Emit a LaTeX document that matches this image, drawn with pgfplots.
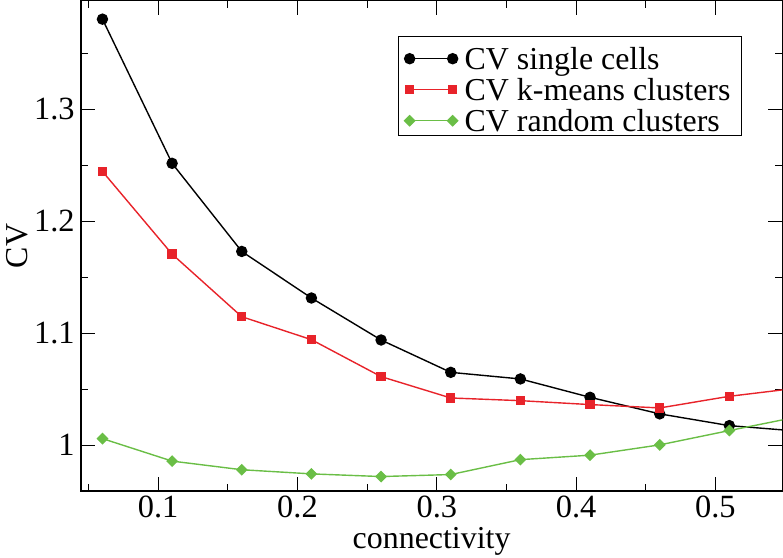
\documentclass[border=0pt]{standalone}
\usepackage{pgfplots}
\pgfplotsset{compat=1.18}
\usepackage{fontspec}
\setmainfont{Liberation Serif}
\definecolor{cvred}{RGB}{232,35,42}
\definecolor{cvgreen}{RGB}{106,190,70}
\begin{document}
\begin{tikzpicture}
\begin{axis}[
  scale only axis, width=701bp, height=490bp,
  xmin=0.0445, xmax=0.548, ymin=0.959, ymax=1.397,
  xtick={0.1,0.2,0.3,0.4,0.5}, ytick={1,1.1,1.2,1.3},
  minor xtick={0.05,0.15,0.25,0.35,0.45},
  minor ytick={0.95,1.05,1.15,1.25,1.35},
  xticklabels={0.1,0.2,0.3,0.4,0.5},
  yticklabels={1,1.1,1.2,1.3},
  tick align=inside, major tick length=14bp, minor tick length=7bp,
  axis line style={line width=1.4bp},
  every tick/.style={black, line width=1.2bp},
  tick label style={font=\fontsize{32.5}{36}\selectfont, inner sep=0bp},
  x tick label style={yshift=-5bp},
  y tick label style={xshift=-6bp},
  /pgf/number format/assume math mode=true,
  xlabel={connectivity}, ylabel={CV},
  xlabel style={at={(axis description cs:0.5,-0.1163)}, anchor=base,
    font=\fontsize{32}{36}\selectfont, inner sep=0bp, text depth=9bp},
  ylabel style={at={(axis description cs:-0.0756,0.5)}, anchor=base,
    font=\fontsize{32}{36}\selectfont, inner sep=6.7bp},
  legend cell align=left,
  legend style={at={(0.9425,0.9286)}, anchor=north east,
    font=\fontsize{32}{36}\selectfont, draw=black, line width=1bp,
    inner xsep=6bp, inner ysep=3bp, row sep=0bp, column sep=2bp,
    nodes={text height=29bp, text depth=0bp, inner xsep=5bp, inner ysep=1bp}},
  legend image code/.code={\draw plot coordinates {(0bp,-4bp) (43bp,-4bp)};},
]
\addplot[black, line width=1.4bp, mark=*, mark size=5bp] coordinates {
(0.06,1.3805) (0.11,1.2517) (0.16,1.173) (0.21,1.1314) (0.26,1.0939)
(0.31,1.065) (0.36,1.0591) (0.41,1.0427) (0.46,1.0279) (0.51,1.0174) (0.56,1.0124)};
\addlegendentry{CV single cells}
\addplot[cvred, line width=1.4bp, mark=square*, mark size=4bp] coordinates {
(0.06,1.2445) (0.11,1.1706) (0.16,1.1147) (0.21,1.0942) (0.26,1.0612)
(0.31,1.0421) (0.36,1.0397) (0.41,1.0362) (0.46,1.0332) (0.51,1.0436) (0.56,1.0511)};
\addlegendentry{CV k-means clusters}
\addplot[cvgreen, line width=1.4bp, mark=square*, mark size=3.5bp, mark options={rotate=45}] coordinates {
(0.06,1.0058) (0.11,0.9857) (0.16,0.978) (0.21,0.9743) (0.26,0.9719)
(0.31,0.9737) (0.36,0.987) (0.41,0.991) (0.46,1.0002) (0.51,1.013) (0.56,1.0255)};
\addlegendentry{CV random clusters}
\end{axis}
\end{tikzpicture}
\end{document}
